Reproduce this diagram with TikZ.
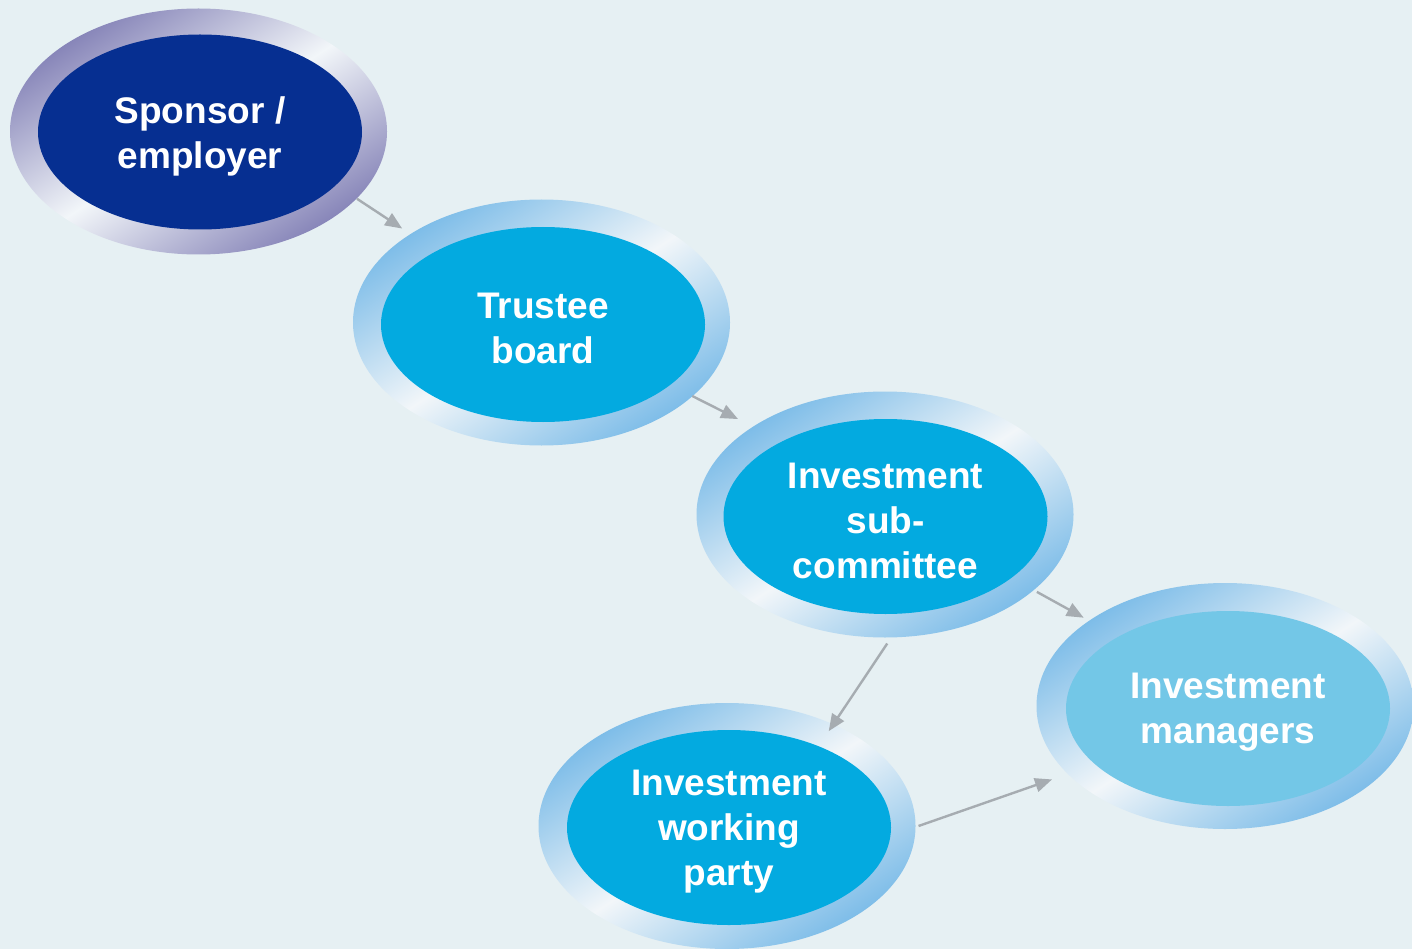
\documentclass[tikz,border=0pt]{standalone}
\usepackage{fontspec}
\setmainfont{Liberation Sans}
\usetikzlibrary{arrows.meta,calc,shapes.geometric}
\definecolor{bg}{HTML}{E6F0F3}
\definecolor{rp}{HTML}{8684B8}
\definecolor{rb}{HTML}{7CBCE8}
\definecolor{rw}{HTML}{F2F6F9}
\definecolor{sp}{HTML}{062F91}
\definecolor{mid}{HTML}{03AAE0}
\definecolor{lite}{HTML}{73C7E7}
\definecolor{arr}{HTML}{A6ACB1}
\pgfdeclarehorizontalshading{ringpurple}{100bp}{color(0bp)=(rp); color(25bp)=(rp); color(50bp)=(rw); color(75bp)=(rp); color(100bp)=(rp)}
\pgfdeclarehorizontalshading{ringblue}{100bp}{color(0bp)=(rb); color(25bp)=(rb); color(50bp)=(rw); color(75bp)=(rb); color(100bp)=(rb)}
\tikzset{
  ring/.style={shape=ellipse, inner sep=0pt, outer sep=0pt, minimum width=377pt, minimum height=246pt, shading angle=-57},
  core/.style={shape=ellipse, inner sep=0pt, outer sep=0pt, minimum width=324pt, minimum height=195pt},
  txt/.style={text=white, align=center, inner sep=0pt, yshift=-4pt,
    font=\fontsize{37}{45}\selectfont\bfseries},
  link/.style={draw=arr, line width=2.4pt, -{Triangle[length=17pt,width=14pt]}}
}
\begin{document}
\begin{tikzpicture}[x=1pt,y=-1pt]
\fill[bg] (0,0) rectangle (1412,949);
\useasboundingbox (0,0) rectangle (1412,949);
% rings
\node[ring, shading=ringpurple] (s) at (198.5,131.5) {};
\node[ring, shading=ringblue] (t) at (541.5,322.5) {};
\node[ring, shading=ringblue] (c) at (885,514.5) {};
\node[ring, shading=ringblue] (m) at (1225,706) {};
\node[ring, shading=ringblue] (w) at (727,826) {};
% cores
\node[core, fill=sp, label={[txt]center:Sponsor /\\employer}] (s1) at (200,132) {};
\node[core, fill=mid, label={[txt]center:Trustee\\board}] (t1) at (543,324.5) {};
\node[core, fill=mid, label={[txt]center:Investment\\sub-\\committee}] (c1) at (885.5,516.5) {};
\node[core, fill=lite, label={[txt]center:Investment\\managers}] (m1) at (1228,708.5) {};
\node[core, fill=mid, label={[txt]center:Investment\\working\\party}] (w1) at (729,827.5) {};
% connectors
\draw[link] ($(s.center)!1.003!(s.-23.9)$) -- ($(t.center)!1.063!(t.146.2)$);
\draw[link] ($(t.center)!0.999!(t.-26)$) -- ($(c.center)!1.10!(c.147.9)$);
\draw[link] ($(c.center)!1.022!(c.-27.2)$) -- ($(m.center)!1.038!(m.148.5)$);
\draw[link] ($(c.center)!1.049!(c.-89.1)$) -- ($(w.center)!0.941!(w.43.2)$);
\draw[link] ($(w.center)!1.016!(w.0.9)$) -- ($(m.center)!1.095!(m.-157)$);
\end{tikzpicture}
\end{document}
